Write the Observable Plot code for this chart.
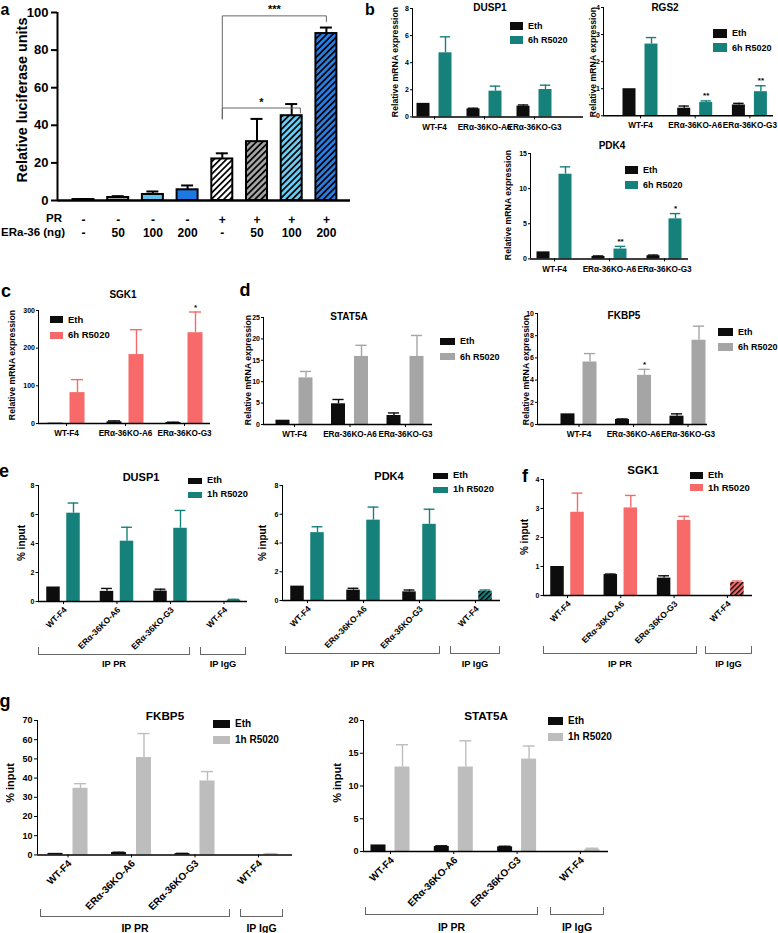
<!DOCTYPE html>
<html><head><meta charset="utf-8">
<script src="https://cdn.jsdelivr.net/npm/d3@7"></script>
<script src="https://cdn.jsdelivr.net/npm/@observablehq/plot@0.6"></script>
<style>
body{margin:0;background:#fff;}
#fig{position:relative;width:778px;height:933px;overflow:hidden;font-family:"Liberation Sans",Arial,sans-serif;font-weight:bold;color:#000;background:#fff;}
.t{position:absolute;white-space:nowrap;line-height:1;}
.t.let{line-height:0.75;}
.sq{position:absolute;}
.br{position:absolute;box-sizing:border-box;border:1px solid #666;border-top:none;}
.pa [aria-label="y-axis tick"], .pa [aria-label="y-axis"] line{stroke-width:2px;}
</style></head><body>
<svg width="0" height="0" style="position:absolute">
<defs>
<pattern id="h-white" patternUnits="userSpaceOnUse" width="4.4" height="4.4" patternTransform="rotate(45)"><rect width="4.4" height="4.4" fill="#ffffff"/><rect width="1.7" height="4.4" fill="#000"/></pattern>
<pattern id="h-gray" patternUnits="userSpaceOnUse" width="4.4" height="4.4" patternTransform="rotate(45)"><rect width="4.4" height="4.4" fill="#a4a4a4"/><rect width="1.7" height="4.4" fill="#000"/></pattern>
<pattern id="h-lblue" patternUnits="userSpaceOnUse" width="4.4" height="4.4" patternTransform="rotate(45)"><rect width="4.4" height="4.4" fill="#6ccbf1"/><rect width="1.7" height="4.4" fill="#000"/></pattern>
<pattern id="h-blue" patternUnits="userSpaceOnUse" width="4.4" height="4.4" patternTransform="rotate(45)"><rect width="4.4" height="4.4" fill="#2a7de1"/><rect width="1.7" height="4.4" fill="#000"/></pattern>
<pattern id="h-teal" patternUnits="userSpaceOnUse" width="3.6" height="3.6" patternTransform="rotate(45)"><rect width="3.6" height="3.6" fill="#16807b"/><rect width="1.4" height="3.6" fill="#000"/></pattern>
<pattern id="h-salmon" patternUnits="userSpaceOnUse" width="3.6" height="3.6" patternTransform="rotate(45)"><rect width="3.6" height="3.6" fill="#f86a6a"/><rect width="1.4" height="3.6" fill="#000"/></pattern>
</defs></svg>
<div id="fig"></div>
<script>
// ---------------- DATA ----------------
// Panel a
const aPR = ["-", "-", "-", "-", "+", "+", "+", "+"];
const aERa = ["-", "50", "100", "200", "-", "50", "100", "200"];
const aMean = [0.5, 1.6, 3.2, 5.7, 22.1, 31.3, 45.1, 88.8];
const aSem = [0.2, 0.7, 1.6, 2.3, 3.0, 12.1, 6.2, 3.2];
const aSigFrom = [4, 4], aSigTo = [7, 6.25];
const aSigY = [98.2, 49.2], aSigLeftEnd = [43.4, 43.4], aSigRightEnd = [95.2, 46.5];
const aSigLabel = ["***", "*"];

const GROUPS = ["WT-F4", "ERα-36KO-A6", "ERα-36KO-G3"];
const CHIP = ["WT-F4", "ERα-36KO-A6", "ERα-36KO-G3", "WT-F4"];
const LEG6 = ["Eth", "6h R5020"], LEG1 = ["Eth", "1h R5020"];

// Panel b
const dusp1_6h_eth = [1.0, 0.59, 0.79], dusp1_6h_ethSem = [0, 0.05, 0.09];
const dusp1_6h_r = [4.73, 1.9, 2.02], dusp1_6h_rSem = [1.18, 0.37, 0.32];
const rgs2_eth = [1.0, 0.28, 0.40], rgs2_ethSem = [0, 0.08, 0.06];
const rgs2_r = [2.65, 0.49, 0.89], rgs2_rSem = [0.24, 0.06, 0.22], rgs2_sig = ["", "**", "**"];
const pdk4_6h_eth = [1.0, 0.35, 0.45], pdk4_6h_ethSem = [0, 0.07, 0.1];
const pdk4_6h_r = [12.05, 1.4, 5.7], pdk4_6h_rSem = [1.05, 0.38, 0.75], pdk4_6h_sig = ["", "**", "*"];
// Panel c
const sgk1_6h_eth = [1, 4.4, 2.6], sgk1_6h_ethSem = [0, 2.6, 0.9];
const sgk1_6h_r = [82, 183, 241], sgk1_6h_rSem = [34.5, 66, 55], sgk1_6h_sig = ["", "", "*"];
// Panel d
const stat5a_6h_eth = [1, 4.84, 2.1], stat5a_6h_ethSem = [0, 1.0, 0.6];
const stat5a_6h_r = [10.9, 15.9, 15.9], stat5a_6h_rSem = [1.5, 2.6, 4.9];
const fkbp5_6h_eth = [0.96, 0.45, 0.75], fkbp5_6h_ethSem = [0, 0.05, 0.21];
const fkbp5_6h_r = [5.63, 4.43, 7.59], fkbp5_6h_rSem = [0.76, 0.54, 1.27], fkbp5_6h_sig = ["", "*", ""];
// Panel e
const dusp1_1h_eth = [1.0, 0.7, 0.72, null], dusp1_1h_ethSem = [0, 0.2, 0.13, 0];
const dusp1_1h_r = [6.09, 4.16, 5.05, 0.1], dusp1_1h_rSem = [0.7, 0.96, 1.23, 0.05];
const pdk4_1h_eth = [1.0, 0.72, 0.6, null], pdk4_1h_ethSem = [0, 0.13, 0.13, 0];
const pdk4_1h_r = [4.72, 5.59, 5.3, 0.64], pdk4_1h_rSem = [0.41, 0.91, 1.05, 0.09];
// Panel f
const sgk1_1h_eth = [1.0, 0.72, 0.6, null], sgk1_1h_ethSem = [0, 0.02, 0.08, 0];
const sgk1_1h_r = [2.87, 3.02, 2.59, 0.45], sgk1_1h_rSem = [0.66, 0.43, 0.14, 0.05];
// Panel g
const fkbp5_1h_eth = [0.8, 1.2, 0.7, null], fkbp5_1h_ethSem = [0, 0.2, 0.1, 0];
const fkbp5_1h_r = [34.7, 50.7, 38.5, 0.5], fkbp5_1h_rSem = [2.4, 12.5, 4.9, 0.2];
const stat5a_1h_eth = [1.0, 0.77, 0.7, null], stat5a_1h_ethSem = [0, 0.1, 0.1, 0];
const stat5a_1h_r = [12.9, 12.9, 14.1, 0.35], stat5a_1h_rSem = [3.4, 4.0, 2.0, 0.15];

// ---------------- STYLE ----------------
const FONT = '"Liberation Sans", Arial, sans-serif';
const TEAL = "#16807b", SALMON = "#f86a6a", GRAY_D = "#a5a5a5", GRAY_G = "#bdbdbd", BLACK = "#0d0d0d";
const aFill = ["#ffffff", "#a4a4a4", "#5ec3ec", "#1e78e2", "url(#h-white)", "url(#h-gray)", "url(#h-lblue)", "url(#h-blue)"];

const fig = document.getElementById("fig");

function txt(x, y, s, o = {}) {
  const d = document.createElement("div");
  d.className = "t" + (o.cls ? " " + o.cls : "");
  d.textContent = s;
  d.style.left = x + "px";
  d.style.top = y + "px";
  d.style.fontSize = (o.size || 8) + "px";
  d.style.fontWeight = o.weight || "bold";
  if (o.color) d.style.color = o.color;
  const ax = o.anchor === "start" ? "0" : o.anchor === "end" ? "-100%" : "-50%";
  d.style.transform = `translate(${ax},-50%)` + (o.rotate ? ` rotate(${o.rotate}deg)` : "");
  fig.appendChild(d);
}
function letter(x, y, s, size = 18) { txt(x, y, s, {size, cls: "let"}); }
function legend(x, y, labels, colors, o) {
  labels.forEach((l, i) => {
    const cy = y + i * o.gap;
    const s = document.createElement("div");
    s.className = "sq";
    Object.assign(s.style, {left: x + "px", top: (cy - o.h / 2) + "px", width: o.w + "px", height: o.h + "px", background: colors[i]});
    fig.appendChild(s);
    txt(x + o.w + 5, cy, l, {size: o.size, anchor: "start"});
  });
}
function bracket(x1, x2, y, h, label, ly, size) {
  const d = document.createElement("div");
  d.className = "br";
  Object.assign(d.style, {left: x1 + "px", top: (y - h) + "px", width: (x2 - x1) + "px", height: h + "px"});
  fig.appendChild(d);
  txt((x1 + x2) / 2, ly, label, {size});
}
function place(p, left, top) {
  p.style.position = "absolute";
  p.style.left = left + "px";
  p.style.top = top + "px";
  fig.appendChild(p);
}

// ---------------- PANEL A ----------------
(function () {
  const axL = 57, axR = 350, yTop = 12, yBot = 200, c0 = 83, step = 34.7;
  const mL = 52, mR = 6, mT = 12, mB = 45;
  const x0 = (axL - c0) / step, x1 = (axR - c0) / step;
  const hw = 10.5 / step, ch = 6 / step;
  const rows = aMean.map((v, i) => ({i, v, e: aSem[i], fill: aFill[i]}));
  const marks = [];
  marks.push(Plot.ruleX(rows, {x: "i", y1: "v", y2: d => d.v + d.e, stroke: "#000", strokeWidth: 2}));
  marks.push(Plot.ruleY(rows, {x1: d => d.i - ch, x2: d => d.i + ch, y: d => d.v + d.e, stroke: "#000", strokeWidth: 2}));
  for (const f of aFill) {
    marks.push(Plot.rect(rows.filter(d => d.fill === f), {x1: d => d.i - hw, x2: d => d.i + hw, y1: 0, y2: "v", fill: f, stroke: "#000", strokeWidth: 2}));
  }
  const sig = aSigLabel.map((l, k) => ({k, l, from: aSigFrom[k], to: aSigTo[k], y: aSigY[k], le: aSigLeftEnd[k], re: aSigRightEnd[k]}));
  const pts = sig.flatMap(s => [
    {k: s.k, x: s.from, y: s.le}, {k: s.k, x: s.from, y: s.y}, {k: s.k, x: s.to, y: s.y}, {k: s.k, x: s.to, y: s.re}
  ]);
  marks.push(Plot.line(pts, {x: "x", y: "y", z: "k", stroke: "#666", strokeWidth: 1}));
  marks.push(Plot.text(sig, {x: s => (s.from + s.to) / 2, y: "y", text: "l", dy: -6, fontSize: 11, fontWeight: "bold"}));
  marks.push(Plot.ruleY([0], {stroke: "#000", strokeWidth: 2.5}));
  marks.push(Plot.ruleX([x0], {stroke: "#000", strokeWidth: 2}));
  marks.push(Plot.text(aPR.map((s, i) => ({i, s})), {x: "i", y: 0, text: "s", dy: 19.5, fontSize: 12, fontWeight: "bold"}));
  marks.push(Plot.text(aERa.map((s, i) => ({i, s})), {x: "i", y: 0, text: "s", dy: 33, fontSize: 12, fontWeight: "bold"}));
  const p = Plot.plot({
    width: mL + axR - axL + mR, height: mT + yBot - yTop + mB,
    marginLeft: mL, marginRight: mR, marginTop: mT, marginBottom: mB,
    style: {fontFamily: FONT, fontSize: "13px", fontWeight: "bold", color: "#000", background: "transparent", overflow: "visible"},
    x: {domain: [x0, x1], axis: null},
    y: {domain: [0, 100], ticks: [0, 20, 40, 60, 80, 100], tickFormat: d => `${d}`, tickSize: 6, tickPadding: 3, label: null},
    marks
  });
  p.classList.add("pa");
  place(p, axL - mL, yTop - mT);
  letter(5, 10, "a", 16);
  txt(22, 100, "Relative luciferase units", {size: 14.4, rotate: -90});
  txt(62, 219, "PR", {size: 11.5, anchor: "end"});
  txt(65, 233, "ERa-36 (ng)", {size: 11.5, anchor: "end"});
})();

// ---------------- GENERIC GROUPED BAR ----------------
function barChart(c) {
  const mL = 34, mR = 6, mT = 10, mB = c.mB || 24;
  const x0 = (c.axL - c.c0) / c.step, x1 = (c.axR - c.c0) / c.step;
  const d = c.off / c.step, hw = c.bw / 2 / c.step, ch = hw * 0.8;
  const rows = [];
  c.groups.forEach((g, i) => {
    if (c.eth[i] != null) rows.push({x: i - d, v: c.eth[i], e: c.ethSem[i], col: BLACK, hatch: false, star: ""});
    if (c.r[i] != null) rows.push({x: i + d, v: c.r[i], e: c.rSem[i], col: c.color, hatch: !!(c.hatch && c.hatch[i]), star: (c.stars && c.stars[i]) || ""});
  });
  const fs = c.fs;
  const marks = [];
  for (const col of [BLACK, c.color]) {
    const rs = rows.filter(r => r.col === col);
    const er = rs.filter(r => r.e > 0);
    marks.push(Plot.ruleX(er, {x: "x", y1: "v", y2: r => r.v + r.e, stroke: col, strokeWidth: 1.4}));
    marks.push(Plot.ruleY(er, {x1: r => r.x - ch, x2: r => r.x + ch, y: r => r.v + r.e, stroke: col, strokeWidth: 1.4}));
    marks.push(Plot.rect(rs.filter(r => !r.hatch), {x1: r => r.x - hw, x2: r => r.x + hw, y1: 0, y2: "v", fill: col}));
  }
  const hr = rows.filter(r => r.hatch);
  if (hr.length) marks.push(Plot.rect(hr, {x1: r => r.x - hw, x2: r => r.x + hw, y1: 0, y2: "v", fill: c.hatchFill}));
  marks.push(Plot.ruleY([0], {stroke: "#000", strokeWidth: 1.5}));
  marks.push(Plot.ruleX([x0], {stroke: "#000", strokeWidth: 1}));
  marks.push(Plot.text(rows.filter(r => r.star), {x: "x", y: r => r.v + r.e, text: "star", dy: -5, fontSize: fs.star, fontWeight: "bold"}));
  const gl = c.groups.map((g, i) => ({i, g}));
  if (c.rotated) {
    marks.push(Plot.text(gl, {x: "i", y: 0, text: "g", rotate: -45, textAnchor: "end", dx: 2, dy: 7, fontSize: fs.xlab, fontWeight: "bold"}));
  } else {
    marks.push(Plot.text(gl, {x: "i", y: 0, text: "g", dy: 10, fontSize: fs.xlab, fontWeight: "bold"}));
  }
  const p = Plot.plot({
    width: mL + c.axR - c.axL + mR, height: mT + c.yBot - c.yTop + mB,
    marginLeft: mL, marginRight: mR, marginTop: mT, marginBottom: mB,
    style: {fontFamily: FONT, fontSize: fs.tick + "px", fontWeight: "bold", color: "#000", background: "transparent", overflow: "visible"},
    x: {domain: [x0, x1], ticks: c.groups.map((g, i) => i), tickFormat: () => "", tickSize: 3, label: null},
    y: {domain: [0, c.yMax], ticks: c.yTicks, tickFormat: v => `${v}`, tickSize: fs.tsize, tickPadding: fs.tpad, label: null},
    marks
  });
  place(p, c.axL - mL, c.yTop - mT);
  return p;
}

const FS_S = {tick: 7, xlab: 8.2, star: 8, tsize: 2, tpad: 1.5};
const FS_E = {tick: 7, xlab: 8.5, star: 8, tsize: 2.5, tpad: 1.5};
const FS_G = {tick: 9, xlab: 10, star: 9, tsize: 3, tpad: 2};

// ---------------- PANEL B ----------------
letter(370, 10, "b", 16);
barChart({axL: 412, axR: 583, yTop: 8.3, yBot: 116.7, c0: 434, step: 50, off: 11, bw: 13, yMax: 8, yTicks: [0, 2, 4, 6, 8],
  groups: GROUPS, eth: dusp1_6h_eth, ethSem: dusp1_6h_ethSem, r: dusp1_6h_r, rSem: dusp1_6h_rSem, color: TEAL, fs: FS_S});
txt(490, 8, "DUSP1", {size: 10});
legend(510, 26, LEG6, [BLACK, TEAL], {w: 13, h: 8, gap: 14, size: 9});
txt(395, 62, "Relative mRNA expression", {size: 8.7, rotate: -90});

barChart({axL: 603, axR: 773, yTop: 6.7, yBot: 115, c0: 640, step: 54.7, off: 11, bw: 13, yMax: 4, yTicks: [0, 1, 2, 3, 4],
  groups: GROUPS, eth: rgs2_eth, ethSem: rgs2_ethSem, r: rgs2_r, rSem: rgs2_rSem, stars: rgs2_sig, color: TEAL, fs: FS_S});
txt(665, 8, "RGS2", {size: 10});
legend(713, 33, LEG6, [BLACK, TEAL], {w: 14, h: 9, gap: 14.5, size: 9});
txt(593, 62, "Relative mRNA expression", {size: 8.7, rotate: -90});

barChart({axL: 530, axR: 688, yTop: 153.3, yBot: 258.7, c0: 554, step: 55, off: 11, bw: 13, yMax: 15, yTicks: [0, 5, 10, 15],
  groups: GROUPS, eth: pdk4_6h_eth, ethSem: pdk4_6h_ethSem, r: pdk4_6h_r, rSem: pdk4_6h_rSem, stars: pdk4_6h_sig, color: TEAL, fs: FS_S});
txt(612, 146, "PDK4", {size: 10});
legend(625, 170, LEG6, [BLACK, TEAL], {w: 13, h: 8, gap: 15, size: 9});
txt(508, 205, "Relative mRNA expression", {size: 8.7, rotate: -90});

// ---------------- PANEL C ----------------
letter(6, 292, "c");
barChart({axL: 38, axR: 210, yTop: 310, yBot: 423, c0: 66, step: 59, off: 11, bw: 15, yMax: 300, yTicks: [0, 100, 200, 300],
  groups: GROUPS, eth: sgk1_6h_eth, ethSem: sgk1_6h_ethSem, r: sgk1_6h_r, rSem: sgk1_6h_rSem, stars: sgk1_6h_sig, color: SALMON, fs: FS_S});
txt(123, 295, "SGK1", {size: 10});
legend(50, 319.5, LEG6, [BLACK, SALMON], {w: 13, h: 7, gap: 15.5, size: 9.5});
txt(12, 365, "Relative mRNA expression", {size: 8.7, rotate: -90});

// ---------------- PANEL D ----------------
letter(245, 291, "d");
barChart({axL: 263, axR: 432, yTop: 317, yBot: 424, c0: 294, step: 55.5, off: 11.5, bw: 14, yMax: 25, yTicks: [0, 5, 10, 15, 20, 25],
  groups: GROUPS, eth: stat5a_6h_eth, ethSem: stat5a_6h_ethSem, r: stat5a_6h_r, rSem: stat5a_6h_rSem, color: GRAY_D, fs: FS_S});
txt(349, 317, "STAT5A", {size: 10});
legend(440, 341, LEG6, [BLACK, GRAY_D], {w: 15, h: 7, gap: 15.5, size: 9});
txt(248, 370, "Relative mRNA expression", {size: 8.7, rotate: -90});

barChart({axL: 537, axR: 707, yTop: 313, yBot: 424, c0: 578.5, step: 54.5, off: 11, bw: 14, yMax: 10, yTicks: [0, 2, 4, 6, 8, 10],
  groups: GROUPS, eth: fkbp5_6h_eth, ethSem: fkbp5_6h_ethSem, r: fkbp5_6h_r, rSem: fkbp5_6h_rSem, stars: fkbp5_6h_sig, color: GRAY_D, fs: FS_S});
txt(624, 316, "FKBP5", {size: 10});
legend(718, 332, LEG6, [BLACK, GRAY_D], {w: 15, h: 8, gap: 15, size: 9});
txt(526, 370, "Relative mRNA expression", {size: 8.7, rotate: -90});

// ---------------- PANEL E ----------------
letter(4, 472, "e");
barChart({axL: 38, axR: 247, yTop: 485, yBot: 601, c0: 63, step: 53.5, off: 10, bw: 13.5, yMax: 8, yTicks: [0, 2, 4, 6, 8], mB: 50, rotated: true,
  groups: CHIP, eth: dusp1_1h_eth, ethSem: dusp1_1h_ethSem, r: dusp1_1h_r, rSem: dusp1_1h_rSem, color: TEAL, fs: FS_E});
txt(141, 477, "DUSP1", {size: 11});
legend(188, 481, LEG1, [BLACK, TEAL], {w: 14, h: 6, gap: 14, size: 9.3});
txt(22, 543, "% input", {size: 10, rotate: -90});
bracket(38, 190, 655, 8, "IP PR", 665, 9.3);
bracket(200, 246, 655, 8, "IP IgG", 665, 9.3);

barChart({axL: 282, axR: 500, yTop: 485, yBot: 600, c0: 307, step: 56, off: 10, bw: 13.5, yMax: 8, yTicks: [0, 2, 4, 6, 8], mB: 50, rotated: true,
  groups: CHIP, eth: pdk4_1h_eth, ethSem: pdk4_1h_ethSem, r: pdk4_1h_r, rSem: pdk4_1h_rSem, color: TEAL, hatch: [false, false, false, true], hatchFill: "url(#h-teal)", fs: FS_E});
txt(389, 476, "PDK4", {size: 11});
legend(433, 476, LEG1, [BLACK, TEAL], {w: 15, h: 6, gap: 14, size: 9.3});
txt(263, 543, "% input", {size: 10, rotate: -90});
bracket(285, 440, 654, 8, "IP PR", 665, 9.3);
bracket(450, 500, 654, 8, "IP IgG", 665, 9.3);

// ---------------- PANEL F ----------------
letter(525, 477, "f");
barChart({axL: 543, axR: 752, yTop: 479, yBot: 595, c0: 567, step: 53.3, off: 10, bw: 13.5, yMax: 4, yTicks: [0, 1, 2, 3, 4], mB: 50, rotated: true,
  groups: CHIP, eth: sgk1_1h_eth, ethSem: sgk1_1h_ethSem, r: sgk1_1h_r, rSem: sgk1_1h_rSem, color: SALMON, hatch: [false, false, false, true], hatchFill: "url(#h-salmon)", fs: FS_E});
txt(643, 471, "SGK1", {size: 11.5});
legend(690, 475, LEG1, [BLACK, SALMON], {w: 13, h: 7, gap: 12.5, size: 9.5});
txt(525, 537, "% input", {size: 10, rotate: -90});
bracket(543, 697, 654, 8, "IP PR", 665, 9.3);
bracket(705, 752, 654, 8, "IP IgG", 665, 9.3);

// ---------------- PANEL G ----------------
letter(5, 702, "g");
barChart({axL: 37, axR: 292, yTop: 719.6, yBot: 854, c0: 67.5, step: 63.5, off: 12.5, bw: 15, yMax: 70, yTicks: [0, 10, 20, 30, 40, 50, 60, 70], mB: 60, rotated: true,
  groups: CHIP, eth: fkbp5_1h_eth, ethSem: fkbp5_1h_ethSem, r: fkbp5_1h_r, rSem: fkbp5_1h_rSem, color: GRAY_G, fs: FS_G});
txt(165, 716, "FKBP5", {size: 11.7});
legend(213, 724, LEG1, [BLACK, GRAY_G], {w: 17, h: 8, gap: 15.5, size: 10});
txt(10, 783, "% input", {size: 11, rotate: -90});
bracket(40, 230, 917, 8, "IP PR", 928, 10.5);
bracket(240, 283, 917, 8, "IP IgG", 928, 10.5);

barChart({axL: 363, axR: 608, yTop: 720, yBot: 851, c0: 390, step: 63.3, off: 12, bw: 15, yMax: 20, yTicks: [0, 5, 10, 15, 20], mB: 60, rotated: true,
  groups: CHIP, eth: stat5a_1h_eth, ethSem: stat5a_1h_ethSem, r: stat5a_1h_r, rSem: stat5a_1h_rSem, color: GRAY_G, fs: FS_G});
txt(486, 716, "STAT5A", {size: 11.7});
legend(548, 721, LEG1, [BLACK, GRAY_G], {w: 15, h: 8, gap: 15.5, size: 10});
txt(337, 783, "% input", {size: 11, rotate: -90});
bracket(365, 538, 915, 8, "IP PR", 927, 10.5);
bracket(550, 604, 915, 8, "IP IgG", 927, 10.5);
</script>
</body></html>
